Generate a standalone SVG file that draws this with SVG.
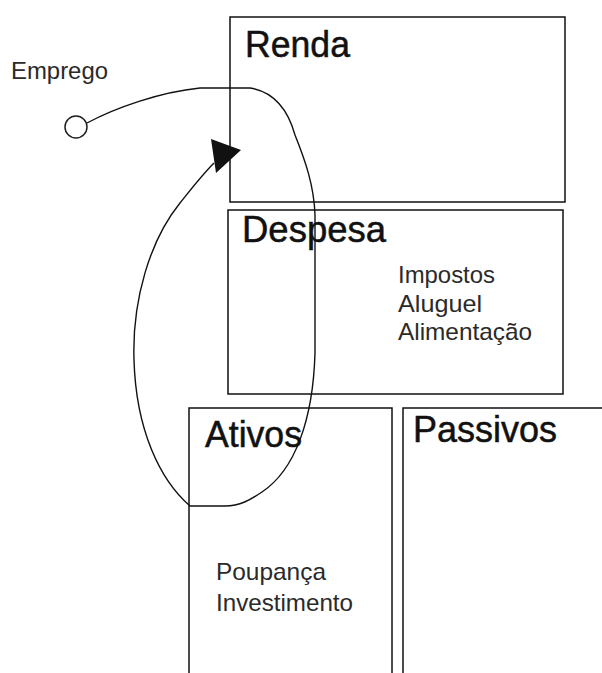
<svg xmlns="http://www.w3.org/2000/svg" width="602" height="673" viewBox="0 0 602 673">
<style>
.box{fill:none;stroke:#111;stroke-width:1.5}
.title{font-family:"Liberation Sans",Arial,sans-serif;font-size:36px;fill:#111;stroke:#111;stroke-width:0.5}
.item{font-family:"Liberation Sans",Arial,sans-serif;font-size:24px;fill:#2a2a2a}
.flow{fill:none;stroke:#111;stroke-width:1.4}
</style>
<rect width="602" height="673" fill="#fff"/>
<g id="renda">
<rect class="box" x="230" y="17" width="335" height="185"/>
<text class="title" x="245" y="57" textLength="105" lengthAdjust="spacingAndGlyphs">Renda</text>
</g>
<g id="despesa">
<rect class="box" x="228" y="210" width="335" height="184"/>
<text class="title" x="242" y="242" textLength="144" lengthAdjust="spacingAndGlyphs">Despesa</text>
<text class="item" x="398" y="283" textLength="97" lengthAdjust="spacingAndGlyphs">Impostos</text>
<text class="item" x="398" y="312" textLength="84" lengthAdjust="spacingAndGlyphs">Aluguel</text>
<text class="item" x="398" y="340" textLength="134" lengthAdjust="spacingAndGlyphs">Alimentação</text>
</g>
<g id="ativos">
<rect class="box" x="189" y="408" width="203" height="280"/>
<text class="title" x="205" y="447" textLength="97" lengthAdjust="spacingAndGlyphs">Ativos</text>
<text class="item" x="216" y="580" textLength="110" lengthAdjust="spacingAndGlyphs">Poupança</text>
<text class="item" x="216" y="611" textLength="137" lengthAdjust="spacingAndGlyphs">Investimento</text>
</g>
<g id="passivos">
<rect class="box" x="403" y="408" width="220" height="280"/>
<text class="title" x="413" y="442" textLength="144" lengthAdjust="spacingAndGlyphs">Passivos</text>
</g>
<g id="emprego">
<circle cx="76" cy="127" r="11" fill="#fff" stroke="#222" stroke-width="1.5"/>
<text class="item" x="11" y="79" textLength="97" lengthAdjust="spacingAndGlyphs">Emprego</text>
</g>
<g id="connectors">
<path class="flow" d="M87,123 C115,108 160,92 200,88 L250,88 C275,92 288,110 295,135 C305,160 314,185 315,215 L315,353 C313,420 295,470 262,492 C250,500 240,506 225,506 L190,506 C160,480 136,430 134,360 C132,300 150,240 180,203 C192,188 202,175 214,163"/>
<polygon points="211,139 241,150 216,173" fill="#111"/>
</g>
</svg>
